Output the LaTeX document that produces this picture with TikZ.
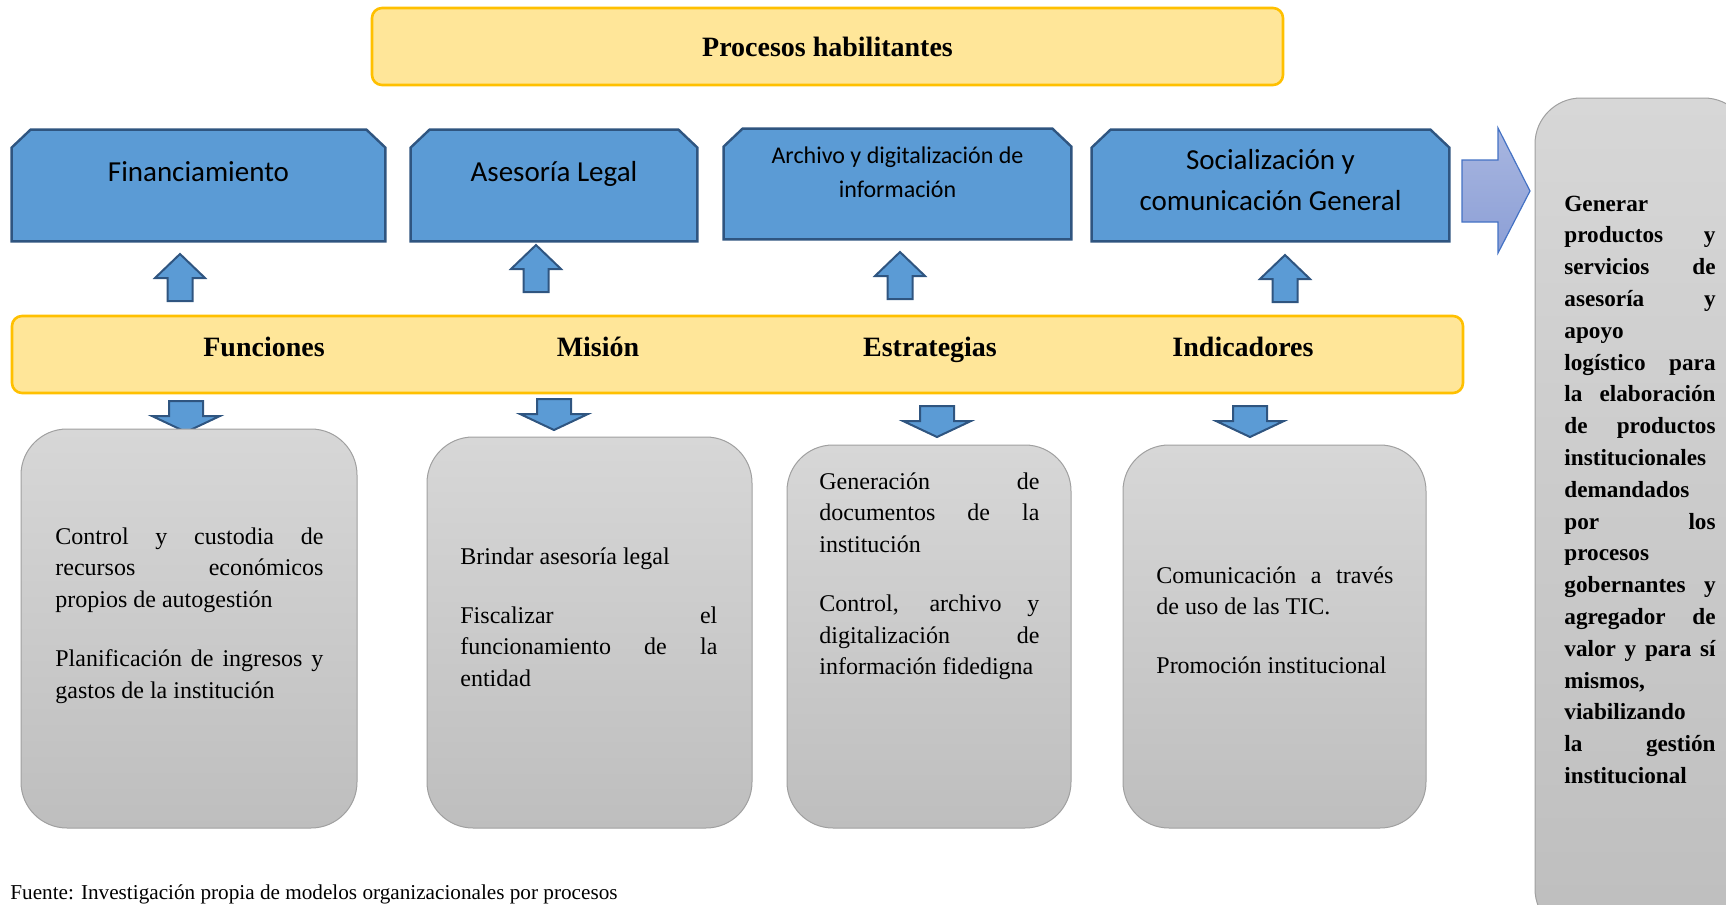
\documentclass[tikz,border=0pt]{standalone}
\usepackage{fontspec}
\setmainfont{Liberation Serif}
\newfontfamily\calibri{Carlito}
\definecolor{hblue}{RGB}{91,155,213}
\definecolor{hblueline}{RGB}{47,85,128}
\definecolor{hyellow}{RGB}{255,230,153}
\definecolor{hyellowline}{RGB}{255,192,0}
\definecolor{hgrey}{RGB}{215,215,215}
\definecolor{hgrey0}{RGB}{190,190,190}
\definecolor{hgreyline}{RGB}{160,160,160}
\definecolor{hviolet}{RGB}{168,182,224}
\definecolor{hviolet0}{RGB}{140,159,214}
\definecolor{hvioletline}{RGB}{68,114,196}
\newcommand{\chamferbox}[1]{%
  \draw[procline] ([yshift=-9pt]#1.north west) -- ([xshift=9.5pt]#1.north west)
    -- ([xshift=-9.5pt]#1.north east) -- ([yshift=-9pt]#1.north east)
    -- (#1.south east) -- (#1.south west) -- cycle;}
\newcommand{\jtext}[2]{\parbox[t]{#1}{#2}}
\tikzset{
  proc/.style={rectangle,inner sep=0pt},
  procline/.style={fill=hblue,draw=hblueline,line width=1.2pt,line join=miter},
  proctext/.style={align=center,inner sep=0pt,font=\calibri\fontsize{14.5}{20.5}\selectfont},
  band/.style={rectangle,rounded corners=5pt,fill=hyellow,draw=hyellowline,line width=1.3pt,inner sep=0pt},
  bandtext/.style={anchor=base,inner sep=0pt,font=\bfseries\fontsize{14}{17}\selectfont},
  card/.style={rectangle,rounded corners=23pt,top color=hgrey,bottom color=hgrey0,
    draw=hgreyline,line width=0.5pt,inner sep=0pt},
  cardtext/.style={anchor=base west,inner sep=0pt,font=\fontsize{12}{15.8}\selectfont},
  blockarr/.style={fill=hblue,draw=hblueline,line width=1pt,line join=miter},
  rarrow/.style={top color=hviolet,bottom color=hviolet0,draw=hvioletline,line width=0.6pt},
  uparr/.pic={\draw[blockarr] (0,0) -- (25,24) -- (12.5,24) -- (12.5,47) -- (-12.5,47) -- (-12.5,24) -- (-25,24) -- cycle;},
  downarr/.pic={\draw[blockarr] (0,0) -- (34,-16) -- (17,-16) -- (17,-31) -- (-17,-31) -- (-17,-16) -- (-34,-16) -- cycle;}
}
\tolerance=10000
\hyphenpenalty=10000
\hbadness=10000
\begin{document}
\begin{tikzpicture}[x=0.5pt,y=-0.5pt]
\useasboundingbox (0,0) rectangle (1726,905);
\node[band,minimum width=455.5pt,minimum height=38.5pt,font=\bfseries\fontsize{14}{17}\selectfont] (hab) at (827.5,46.5) {Procesos habilitantes};

\node[proc,minimum width=186.5pt,minimum height=55.5pt] (fin) at (198.5,185.5) {};
\node[proc,minimum width=143pt,minimum height=55.5pt] (ase) at (554,185.5) {};
\node[proc,minimum width=173.5pt,minimum height=55pt] (arc) at (897.5,184) {};
\node[proc,minimum width=178.5pt,minimum height=55.5pt] (soc) at (1270.5,185.5) {};
\chamferbox{fin}
\chamferbox{ase}
\chamferbox{arc}
\chamferbox{soc}
\node[proctext,anchor=base] (fin-t) at (198.5,181) {Financiamiento};
\node[proctext,anchor=base] (ase-t) at (554,181) {Asesoría Legal};
\node[proctext,font=\calibri\fontsize{12}{17}\selectfont] (arc-t) at (897.5,172) {Archivo y digitalización de\\información};
\node[proctext] (soc-t) at (1270.5,180.5) {Socialización y\\comunicación General};

\pic at (180,254) {uparr};
\pic at (536,245) {uparr};
\pic at (900,252) {uparr};
\pic at (1285,255) {uparr};

\node[band,minimum width=725.5pt,minimum height=38.5pt] (pil) at (737.5,354.5) {};
\node[bandtext] (fun) at (264,356) {Funciones};
\node[bandtext] (mis) at (598,356) {Misión};
\node[bandtext] (est) at (930,356) {Estrategias};
\node[bandtext] (ind) at (1243,356) {Indicadores};

\pic at (186,432) {downarr};
\pic at (554,430) {downarr};
\pic at (937,437) {downarr};
\pic at (1250,437) {downarr};

\node[card,minimum width=168pt,minimum height=199.5pt] (fun-c) at (189,628.5) {};
\node[card,minimum width=162.5pt,minimum height=195.5pt] (mis-c) at (589.5,632.5) {};
\node[card,minimum width=142pt,minimum height=191.5pt] (est-c) at (929,636.5) {};
\node[card,minimum width=151.5pt,minimum height=191.5pt] (ind-c) at (1274.5,636.5) {};

\node[cardtext] (fun-x) at (55,544) {\jtext{134pt}{Control y custodia de\linebreak recursos económicos\linebreak propios de autogestión\\[13.8pt]Planificación de ingresos y\linebreak gastos de la institución}};
\node[cardtext] (mis-x) at (460,564) {\jtext{128.5pt}{Brindar asesoría legal\\[13.8pt]Fiscalizar el\linebreak funcionamiento de la\linebreak entidad}};
\node[cardtext] (est-x) at (819,489) {\jtext{110pt}{Generación de\linebreak documentos de la\linebreak institución\\[13.8pt]Control, archivo y\linebreak digitalización de\linebreak información fidedigna}};
\node[cardtext] (ind-x) at (1156,583) {\jtext{118.5pt}{Comunicación a través\linebreak de uso de las TIC.\\[13.8pt]Promoción institucional}};

\draw[rarrow] (1462,160) -- (1498,160) -- (1498,128) -- (1530,191) -- (1498,253) -- (1498,222) -- (1462,222) -- cycle;

\node[card,minimum width=107.5pt,minimum height=418.5pt] (obj) at (1642.5,516.5) {};
\node[cardtext,font=\bfseries\fontsize{11.6}{15.9}\selectfont] (obj-x) at (1564,211) {\jtext{75.6pt}{Generar\linebreak productos y\linebreak servicios de\linebreak asesoría y\linebreak apoyo\linebreak logístico para\linebreak la elaboración\linebreak de productos\linebreak institucionales\linebreak demandados\linebreak por los\linebreak procesos\linebreak gobernantes y\linebreak agregador de\linebreak valor y para sí\linebreak mismos,\linebreak viabilizando\linebreak la gestión\linebreak institucional}};

\node[anchor=base west,inner sep=0pt,font=\fontsize{10.6}{12}\selectfont] (src) at (10,899) {Fuente: Investigación propia de modelos organizacionales por procesos};
\end{tikzpicture}
\end{document}
